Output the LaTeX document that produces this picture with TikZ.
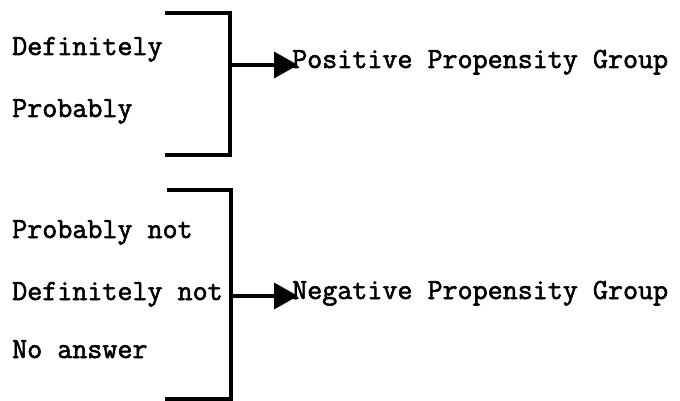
\documentclass[tikz,border=0pt]{standalone}
\usepackage{fontspec}
\setmonofont[FakeBold=2]{Latin Modern Mono}
\usetikzlibrary{arrows.meta}
\begin{document}
\begin{tikzpicture}[x=1pt,y=-1pt,
  item/.style={anchor=base west,inner sep=0pt,font=\ttfamily\fontsize{29.2}{34}\selectfont},
  bracket/.style={line width=3.6pt,line join=miter,line cap=butt},
  feed/.style={line width=3.6pt,-{Triangle[length=24pt,width=26pt]},shorten >=-6pt}]
  \useasboundingbox (0,0) rectangle (680,401);

  % answer categories
  \node[item] (def)   at (12,55)  {Definitely};
  \node[item] (prob)  at (12,117) {Probably};
  \node[item] (probn) at (12,238) {Probably not};
  \node[item] (defn)  at (12,300) {Definitely not};
  \node[item] (noans) at (12,358) {No answer};

  % group labels
  \node[item] (pos) at (292,68)  {Positive Propensity Group};
  \node[item] (neg) at (292,299) {Negative Propensity Group};

  % upper bracket
  \coordinate (ua) at (165,13);
  \coordinate (ub) at (230,155);
  \coordinate (ux) at (165,155);
  \coordinate (uj) at (230,65);
  \draw[bracket] (ua) -| (ub) -- (ux);

  % lower bracket
  \coordinate (la) at (167,190);
  \coordinate (lb) at (231,399);
  \coordinate (lx) at (165,399);
  \coordinate (lj) at (231,296);
  \draw[bracket] (la) -| (lb) -- (lx);

  % feeds into the groups
  \draw[feed] (uj) -- (uj -| pos.west);
  \draw[feed] (lj) -- (lj -| neg.west);
\end{tikzpicture}
\end{document}
